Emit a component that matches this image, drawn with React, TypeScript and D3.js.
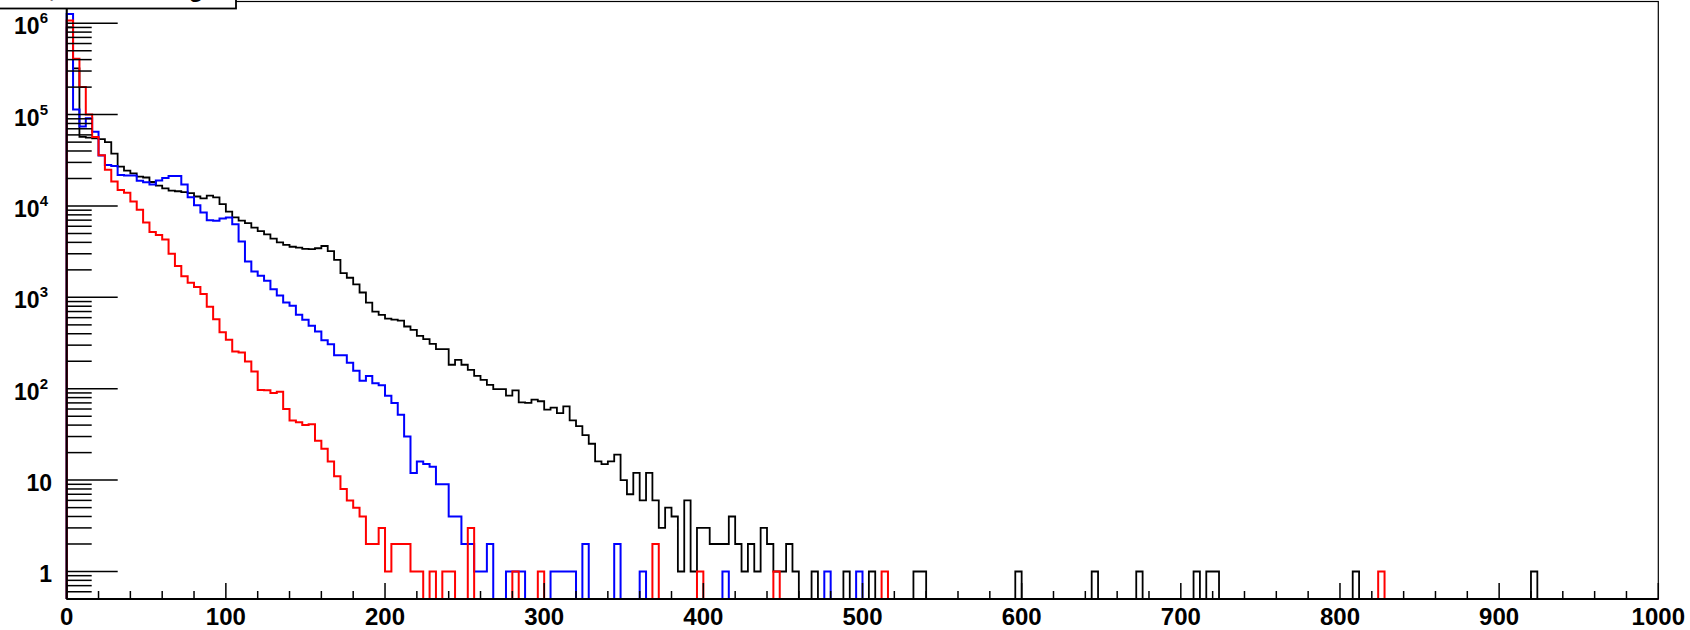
import React, { useRef, useEffect } from 'react';
import * as d3 from 'd3';

const binWidth = 4;
const nBins = 250;

// black histogram, bins of 4 starting at 0
const blackCounts = [
  900000, 320000, 57000, 56000, 55000, 54000, 50000, 37500, 27000, 24400,
  22800, 21000, 20500, 18300, 16700, 15600, 14700, 14500, 14200, 13800,
  12700, 12100, 13000, 12400, 10500, 8700, 7500, 6900, 6500, 5800,
  5300, 4900, 4400, 4000, 3750, 3580, 3500, 3400, 3380, 3450,
  3650, 3200, 2570, 1840, 1640, 1390, 1130, 878, 700, 644,
  585, 570, 557, 480, 441, 379, 349, 310, 271, 271,
  183, 207, 183, 161, 138, 125, 110, 99, 99, 84,
  96, 71, 70, 76, 73, 59, 62, 54, 64, 45,
  39, 31, 25, 16, 15, 16, 19, 10, 7, 12,
  6, 12, 6, 3, 5, 4, 1, 6, 1, 3,
  3, 2, 2, 2, 4, 2, 1, 2, 1, 3,
  2, 1, 1, 2, 1,
];
const blackTailEdges = [468, 488, 504, 532, 536, 596, 644, 672, 708, 716, 720, 808, 920];
const blackTailCounts = [1, 1, 1, 1, 1, 1, 1, 1, 1, 1, 1, 1, 1];

const blueCounts = [
  1260000, 114000, 74000, 91000, 65000, 35600, 28100, 27400, 21800, 21500,
  21500, 18900, 18200, 17200, 19000, 20300, 21300, 21300, 17200, 12500,
  10200, 8500, 7000, 6900, 7300, 7500, 6300, 4100, 2470, 1920,
  1720, 1520, 1230, 1050, 880, 808, 644, 568, 488, 423,
  340, 306, 232, 232, 192, 157, 122, 138, 115, 109,
  84, 70, 52, 30, 12, 16, 15, 14, 9, 9,
  4, 4, 2, 2, 1, 1, 2,
];
const blueTailEdges = [276, 280, 284, 304, 308, 312, 316, 324, 344, 360, 412, 476, 496];
const blueTailCounts = [1, 1, 1, 1, 1, 1, 1, 2, 2, 1, 1, 1, 1];

const redCounts = [
  1070000, 410000, 200000, 100000, 57000, 36000, 25000, 18500, 15000, 14000,
  11200, 9100, 6600, 5200, 4800, 4300, 3000, 2200, 1700, 1450,
  1300, 1090, 790, 575, 416, 343, 255, 249, 199, 154,
  97, 96, 90, 93, 60, 45, 43, 40, 41, 27,
  22, 16, 11, 8, 6, 5, 4, 2, 2, 3,
  1, 2, 2, 2, 1, 1, 0, 1, 0, 1,
  1, 0, 0, 3,
];
const redTailEdges = [280, 296, 368, 396, 444, 512, 824];
const redTailCounts = [1, 1, 2, 1, 1, 1, 1];

const xMajorTicks = [0, 100, 200, 300, 400, 500, 600, 700, 800, 900, 1000];
const yDecades = [1, 10, 100, 1000, 10000, 100000, 1000000];
const yExponents = ['', '', '2', '3', '4', '5', '6'];

const titleText = 'E, mean timing';

const fillBins = (counts: number[], edges: number[], tail: number[]) => {
  const a = d3.range(nBins).map((i) => counts[i] ?? 0);
  edges.forEach((e, k) => {
    a[Math.round(e / binWidth)] = tail[k];
  });
  return a;
};

const W = 1690;
const H = 630;

const App: React.FC = () => {
  const svgRef = useRef<SVGSVGElement>(null);

  useEffect(() => {
    if (!svgRef.current) return;
    document.body.style.margin = '0';

    const svg = d3.select(svgRef.current);
    svg.selectAll('*').remove();

    const left = 66.7;
    const right = 1658.3;
    const top = 1.5;
    const bottom = 599;

    const x = d3.scaleLinear().domain([0, 1000]).range([left, right]);
    const y = d3.scaleLog().domain([0.5, 1.73e6]).range([bottom, top]);

    svg.append('rect').attr('width', W).attr('height', H).attr('fill', '#fff');

    // frame
    svg
      .append('rect')
      .attr('x', left)
      .attr('y', top)
      .attr('width', right - left)
      .attr('height', bottom - top)
      .attr('fill', 'none')
      .attr('stroke', '#000')
      .attr('stroke-width', 1.2);

    const histPath = (counts: number[]) => {
      let d = `M${x(0)},${bottom}`;
      counts.forEach((c, i) => {
        const yy = c > 0 ? y(c) : bottom;
        d += `V${yy}H${x((i + 1) * binWidth)}`;
      });
      d += `V${bottom}`;
      return d;
    };

    const series = [
      { color: '#000000', width: 1.8, counts: fillBins(blackCounts, blackTailEdges, blackTailCounts) },
      { color: '#0000ff', width: 2, counts: fillBins(blueCounts, blueTailEdges, blueTailCounts) },
      { color: '#ff0000', width: 2, counts: fillBins(redCounts, redTailEdges, redTailCounts) },
    ];

    const plot = svg.append('g');
    plot
      .selectAll('path.hist')
      .data(series)
      .enter()
      .append('path')
      .attr('class', 'hist')
      .attr('d', (s) => histPath(s.counts))
      .attr('fill', 'none')
      .attr('stroke', (s) => s.color)
      .attr('stroke-width', (s) => s.width);

    // x axis
    const xAxis = svg.append('g');
    xAxis
      .append('line')
      .attr('x1', left)
      .attr('x2', right)
      .attr('y1', bottom)
      .attr('y2', bottom)
      .attr('stroke', '#000')
      .attr('stroke-width', 2);
    const xMinor = d3.range(0, 1001, 20).filter((v) => v % 100 !== 0);
    xAxis
      .selectAll('line.minor')
      .data(xMinor)
      .enter()
      .append('line')
      .attr('x1', (d) => x(d))
      .attr('x2', (d) => x(d))
      .attr('y1', bottom)
      .attr('y2', bottom - 8)
      .attr('stroke', '#000')
      .attr('stroke-width', 1.5);
    xAxis
      .selectAll('line.major')
      .data(xMajorTicks)
      .enter()
      .append('line')
      .attr('x1', (d) => x(d))
      .attr('x2', (d) => x(d))
      .attr('y1', bottom)
      .attr('y2', bottom - 16)
      .attr('stroke', '#000')
      .attr('stroke-width', 1.5);
    xAxis
      .selectAll('text')
      .data(xMajorTicks)
      .enter()
      .append('text')
      .attr('x', (d) => x(d))
      .attr('y', 625)
      .attr('text-anchor', 'middle')
      .attr('font-family', 'Liberation Sans, Arial, sans-serif')
      .attr('font-weight', 'bold')
      .attr('font-size', 24)
      .text((d) => String(d));

    // y axis
    const yAxis = svg.append('g');
    yAxis
      .append('line')
      .attr('x1', left)
      .attr('x2', left)
      .attr('y1', top)
      .attr('y2', bottom)
      .attr('stroke', '#000')
      .attr('stroke-width', 2);
    const yMinor: number[] = [];
    d3.range(-1, 7).forEach((p) => {
      d3.range(2, 10).forEach((k) => {
        const v = k * Math.pow(10, p);
        if (v >= 0.5 && v <= 1.73e6) yMinor.push(v);
      });
    });
    yAxis
      .selectAll('line.minor')
      .data(yMinor)
      .enter()
      .append('line')
      .attr('x1', left)
      .attr('x2', left + 25)
      .attr('y1', (d) => y(d))
      .attr('y2', (d) => y(d))
      .attr('stroke', '#000')
      .attr('stroke-width', 1.5);
    yAxis
      .selectAll('line.major')
      .data(yDecades)
      .enter()
      .append('line')
      .attr('x1', left)
      .attr('x2', left + 51)
      .attr('y1', (d) => y(d))
      .attr('y2', (d) => y(d))
      .attr('stroke', '#000')
      .attr('stroke-width', 1.5);

    const labels = yAxis
      .selectAll('text')
      .data(yDecades)
      .enter()
      .append('text')
      .attr('x', (_, i) => (yExponents[i] ? 48 : 52))
      .attr('y', (d) => y(d) + 11)
      .attr('text-anchor', 'end')
      .attr('font-family', 'Liberation Sans, Arial, sans-serif')
      .attr('font-weight', 'bold')
      .attr('font-size', 23);
    labels.each(function (d, i) {
      const t = d3.select(this);
      if (yExponents[i]) {
        t.append('tspan').text('10');
        t.append('tspan').attr('dy', -11).attr('font-size', 15).text(yExponents[i]);
      } else {
        t.text(String(d));
      }
    });

    // title box, mostly above the page
    svg
      .append('rect')
      .attr('x', -3)
      .attr('y', -40)
      .attr('width', 239)
      .attr('height', 48.5)
      .attr('fill', '#fff')
      .attr('stroke', '#000')
      .attr('stroke-width', 1.8);
    svg
      .append('text')
      .attr('x', 118)
      .attr('y', -3)
      .attr('text-anchor', 'middle')
      .attr('font-family', 'Liberation Sans, Arial, sans-serif')
      .attr('font-weight', 'bold')
      .attr('font-size', 24)
      .text(titleText);
  }, []);

  return (
    <div style={{ position: 'absolute', left: 0, top: 0 }}>
      <svg ref={svgRef} width={W} height={H} style={{ display: 'block' }}></svg>
    </div>
  );
};

export default App;
